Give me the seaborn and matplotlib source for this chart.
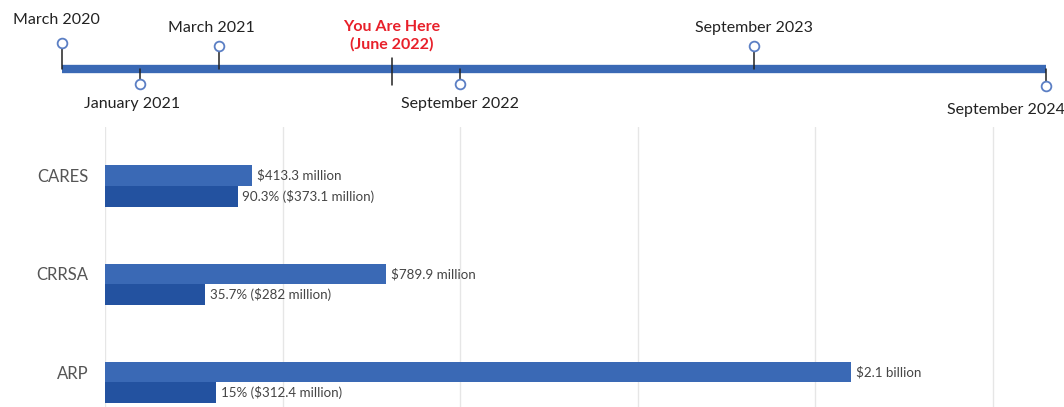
import pandas as pd
import matplotlib.pyplot as plt
import seaborn as sns

# timeline events (position along the line, 0 = start, 1 = end)
events = ["March 2020", "January 2021", "March 2021", "September 2022",
          "September 2023", "September 2024"]
event_pos = [0.0, 0.079, 0.16, 0.404, 0.703, 1.0]
event_side = ["up", "down", "up", "down", "up", "down"]
here_label = "You Are Here\n(June 2022)"
here_pos = 0.335

# funding
programs = ["CARES", "CRRSA", "ARP"]
allocated = [413.3, 789.9, 2100.0]
spent = [373.1, 282.0, 312.4]
alloc_labels = ["$413.3 million", "$789.9 million", "$2.1 billion"]
spent_labels = ["90.3% ($373.1 million)", "35.7% ($282 million)", "15% ($312.4 million)"]

sns.set_style("white")
plt.rcParams['font.family'] = ['Lato', 'DejaVu Sans']

fig = plt.figure(figsize=(10.64, 4.07), dpi=100)

# ---- timeline ----
ax_t = fig.add_axes([62 / 1064, 1 - 125 / 407, 984 / 1064, 125 / 407])
ax_t.set_xlim(0, 1)
ax_t.set_ylim(-56, 69)
ax_t.axis("off")
line_col = "#3a69b5"
ax_t.plot([0, 1], [0, 0], color=line_col, lw=6, solid_capstyle="butt", zorder=1)

for name, p, side in zip(events, event_pos, event_side):
    if side == "up":
        cy, ly = 23, 41
        if p == 0:
            cy, ly = 26, 49
    else:
        cy, ly = -15, -35
        if p == 1:
            cy, ly = -17, -41
    ax_t.plot([p, p], [0, cy], color="#222222", lw=1.1, zorder=2, clip_on=False)
    ax_t.plot(p, cy, "o", ms=7, mfc="white", mec="#5b7fc4", mew=1.3, zorder=3,
              clip_on=False)
    ha = "center"
    x = p
    if p == 1:
        ha = "right"
        x = 1.019
    elif p == 0:
        x = -0.006
    elif p < 0.2:
        x = p - 0.008
    ax_t.text(x, ly, name, ha=ha, va="center", fontsize=11.5, color="#222222",
              clip_on=False)

ax_t.plot([here_pos, here_pos], [11, -16], color="#222222", lw=1.1, zorder=2)
ax_t.text(here_pos, 33, here_label, ha="center", va="center", fontsize=11.5,
          color="#e8202a", fontweight="bold", linespacing=1.3)

# ---- bars ----
ax = fig.add_axes([105 / 1064, 0, 1 - 105 / 1064, 1 - 127 / 407])
df = pd.DataFrame({
    "program": programs * 2,
    "amount": allocated + spent,
    "kind": ["Allocated"] * 3 + ["Spent"] * 3,
})
sns.barplot(data=df, y="program", x="amount", hue="kind", orient="h",
            palette=["#3a69b5", "#2352a0"], width=0.42, ax=ax,
            legend=False, saturation=1, linewidth=0)
ax.set_xlim(0, 2700)
ax.set_ylim(2.25, -0.60)
ax.set_xticks([0, 500, 1000, 1500, 2000, 2500])
ax.grid(axis="x", color="#e6e6e6", lw=1)
ax.set_axisbelow(True)
ax.set_xticklabels([])
ax.set_yticks([i - 0.105 for i in range(len(programs))])
ax.set_yticklabels(programs)
ax.tick_params(axis="both", length=0)
ax.tick_params(axis="y", labelsize=12, labelcolor="#555555", pad=12)
ax.set_xlabel("")
ax.set_ylabel("")
sns.despine(ax=ax, left=True, bottom=True)

for i in range(len(programs)):
    ax.text(allocated[i] + 14, i - 0.105, alloc_labels[i], va="center",
            ha="left", fontsize=9.6, color="#444444")
    ax.text(spent[i] + 14, i + 0.105, spent_labels[i], va="center",
            ha="left", fontsize=9.6, color="#444444")

fig.savefig("out.png", dpi=100)
